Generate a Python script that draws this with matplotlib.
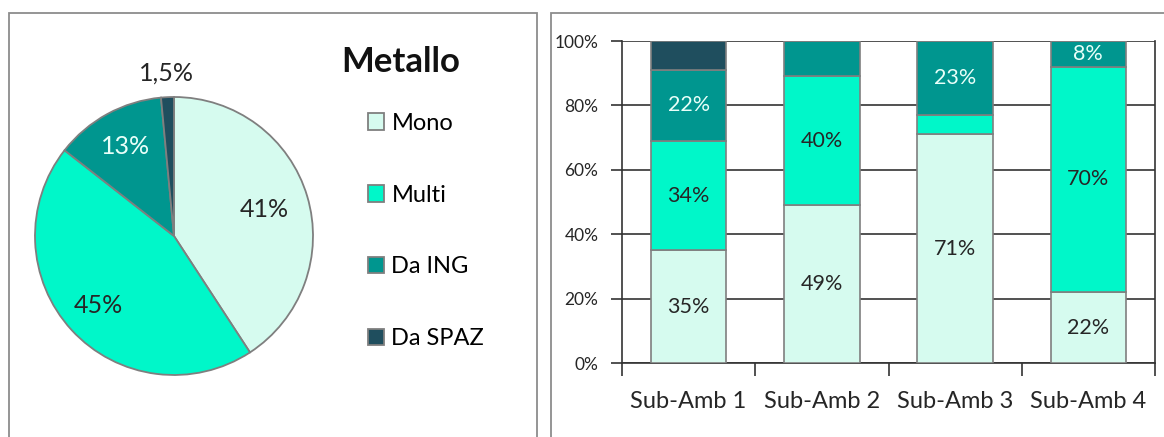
import numpy as np
import matplotlib
matplotlib.use("Agg")
from matplotlib import pyplot as plt
from matplotlib.patches import Rectangle

plt.rcParams['font.family'] = ['Lato', 'DejaVu Sans']

# pie data (Metallo)
categories = ["Mono", "Multi", "Da ING", "Da SPAZ"]
pie_values = [41, 45, 13, 1.5]
pie_labels = ["41%", "45%", "13%", "1,5%"]

# stacked bars per sub-ambito
groups = ["Sub-Amb 1", "Sub-Amb 2", "Sub-Amb 3", "Sub-Amb 4"]
mono = [35, 49, 71, 22]
multi = [34, 40, 6, 70]
da_ing = [22, 11, 23, 8]
da_spaz = [9, 0, 0, 0]
mono_lbl = ["35%", "49%", "71%", "22%"]
multi_lbl = ["34%", "40%", "", "70%"]
da_ing_lbl = ["22%", "", "23%", "8%"]
da_spaz_lbl = ["", "", "", ""]

colors = ["#D6FBEF", "#00F7C9", "#00968F", "#1F4E5E"]
txt_colors = ["#262626", "#262626", "#E8FFF9", "#E8FFF9"]
edge = "#7F7F7F"

W, H = 1164, 437
fig = plt.figure(figsize=(W / 100, H / 100), dpi=100)

def px_axes(x0, y0, x1, y1):
    # axes from pixel box (top-left origin)
    return fig.add_axes([x0 / W, 1 - y1 / H, (x1 - x0) / W, (y1 - y0) / H])

# panel frames
for x0, x1 in [(9, 537), (551, 1200)]:
    fig.add_artist(Rectangle((x0 / W, -0.1), (x1 - x0) / W, 1.1 - 13 / H,
                             transform=fig.transFigure, fill=False,
                             edgecolor="#8C8C8C", linewidth=1.3))

# ---- pie ----
cx, cy, r = 174, 236, 139
ax1 = px_axes(cx - r, cy - r, cx + r, cy + r)
wedges, _ = ax1.pie(pie_values, colors=colors, startangle=90, counterclock=False,
                    wedgeprops=dict(edgecolor=edge, linewidth=1.3))
ax1.set_xlim(-1, 1)
ax1.set_ylim(-1, 1)
ax1.set_aspect("equal")
label_r = [0.68, 0.74, 0.73, 1.17]
for w, lab, rr, tc in zip(wedges, pie_labels, label_r, txt_colors):
    ang = np.deg2rad((w.theta1 + w.theta2) / 2)
    col = "#262626" if rr > 1 else tc
    ax1.text(rr * np.cos(ang), rr * np.sin(ang), lab, ha="center", va="center",
             fontsize=18, color=col, clip_on=False)

fig.text(341 / W, 1 - 62 / H, "Metallo", fontsize=25, fontweight="bold",
         ha="left", va="center", color="#111111")
fig.legend(wedges, categories, loc="upper left",
           bbox_to_anchor=(356 / W, 1 - 101 / H), frameon=False,
           fontsize=17, handlelength=0.7, handleheight=0.7,
           handletextpad=0.3, labelspacing=2.15, borderpad=0)

# ---- stacked bars ----
ax2 = px_axes(622, 41, 1155, 363)
x = np.arange(len(groups))
bw = 0.565
bottom = np.zeros(len(groups))
series = [(mono, mono_lbl), (multi, multi_lbl), (da_ing, da_ing_lbl), (da_spaz, da_spaz_lbl)]
for (vals, lbls), c, tc in zip(series, colors, txt_colors):
    v = np.array(vals) / 100
    ax2.bar(x, v, bw, bottom=bottom, color=c, edgecolor=edge, linewidth=1.2, zorder=3)
    for xi, b, h, t in zip(x, bottom, v, lbls):
        if t:
            ax2.text(xi, b + h / 2, t, ha="center", va="center", fontsize=15.5,
                     color=tc, zorder=4)
    bottom = bottom + v

ax2.set_xlim(-0.5, len(groups) - 0.5)
ax2.set_ylim(0, 1)
ax2.set_yticks(np.arange(0, 1.01, 0.2))
ax2.set_yticklabels([f"{int(round(t * 100))}%" for t in np.arange(0, 1.01, 0.2)],
                    fontsize=12.5, color="#262626")
ax2.yaxis.grid(True, color="#333333", linewidth=1.2, zorder=0)
ax2.set_xticks(np.arange(-0.5, len(groups)), minor=False)
ax2.set_xticklabels([])
ax2.set_xticks(x, minor=True)
ax2.set_xticklabels(groups, minor=True, fontsize=17, color="#262626")
ax2.tick_params(axis="x", which="major", length=9, width=1.2, color="#333333", direction="out")
ax2.tick_params(axis="x", which="minor", length=0, pad=20)
ax2.tick_params(axis="y", length=8, width=1.2, color="#333333", pad=9)
for s in ["left", "bottom", "right"]:
    ax2.spines[s].set_color("#333333")
    ax2.spines[s].set_linewidth(1.2)
ax2.spines["top"].set_visible(False)

fig.savefig("out.png", dpi=100)
